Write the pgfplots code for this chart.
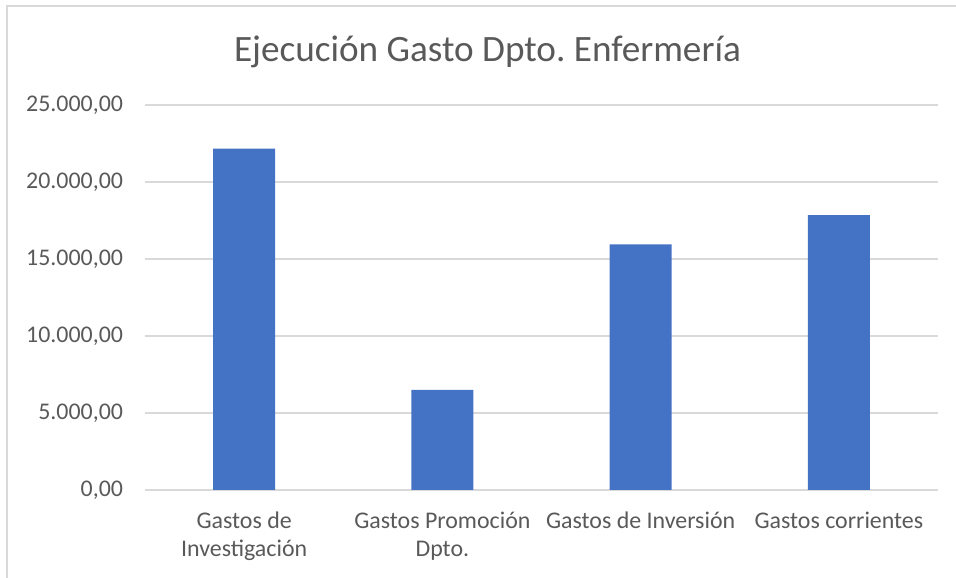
\documentclass[border=0pt]{standalone}
\usepackage{fontspec}
\setmainfont{Carlito}
\usepackage{pgfplots}
\pgfplotsset{compat=1.18}
\definecolor{barblue}{HTML}{4472C4}
\definecolor{txtgray}{HTML}{595959}
\definecolor{gridgray}{HTML}{D9D9D9}
\frenchspacing
\begin{document}
\begin{tikzpicture}
\path[use as bounding box] (0,0) rectangle (717bp,433.5bp);
\draw[gridgray, line width=1.2bp] (5.25bp,0) -- (5.25bp,429bp) -- (717bp,429bp);
\node[anchor=base, text=txtgray, font=\fontsize{28}{34}\selectfont] at (365.6bp,387bp) {Ejecución Gasto Dpto. Enfermería};
\begin{axis}[
  at={(108.75bp,66bp)}, anchor=south west,
  width=594.75bp, height=288.75bp, scale only axis,
  xmin=-0.5, xmax=3.5, ymin=0, ymax=25000,
  xtick={0,1,2,3},
  xticklabels={{Gastos de\\Investigación},{Gastos Promoción\\Dpto.},{Gastos de Inversión},{Gastos corrientes}},
  ytick={0,5000,10000,15000,20000,25000},
  axis line style={draw=none},
  major tick length=0pt,
  ymajorgrids,
  grid style={gridgray, line width=1.2bp},
  scaled y ticks=false,
  y tick label style={/pgf/number format/fixed, /pgf/number format/fixed zerofill, /pgf/number format/precision=2, /pgf/number format/1000 sep={.}, /pgf/number format/use comma, /pgf/number format/assume math mode=true},
  yticklabel style={font=\fontsize{18}{21}\selectfont, text=txtgray, xshift=-13bp},
  xticklabel style={font=\fontsize{18}{21}\selectfont, text=txtgray, align=center, anchor=north, yshift=-13bp},
  ybar, bar width=46.5bp,
]
\addplot[fill=barblue, draw=none] coordinates {(0,22170) (1,6500) (2,15950) (3,17850)};
\end{axis}
\end{tikzpicture}
\end{document}
